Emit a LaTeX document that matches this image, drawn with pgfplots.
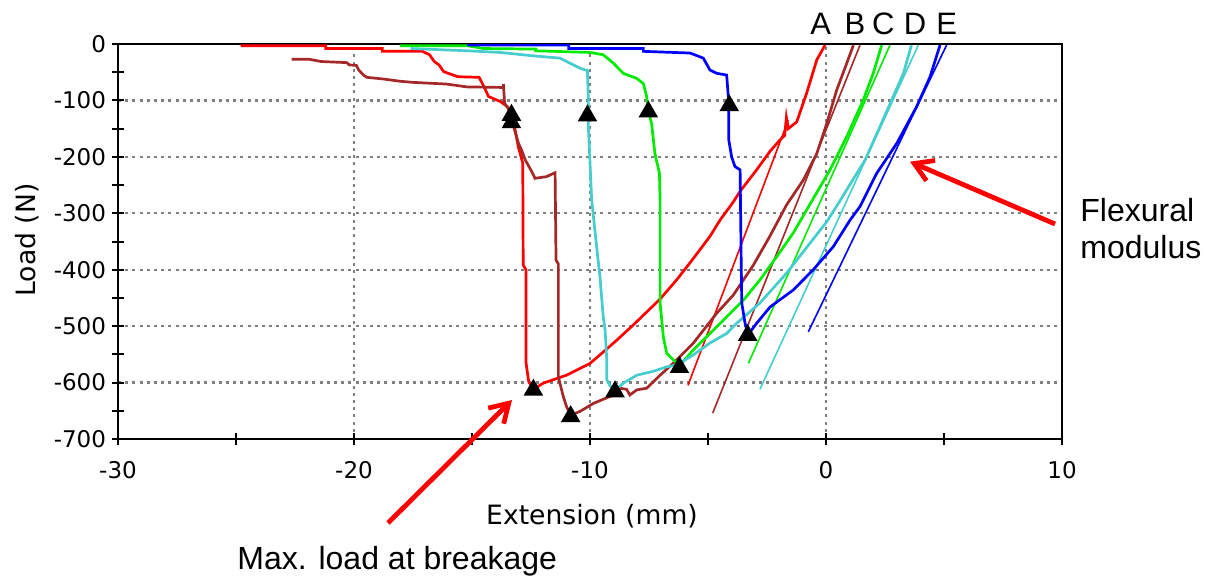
\documentclass[border=0pt]{standalone}
\usepackage{fontspec}
\setmainfont{DejaVu Sans}
\newfontfamily\arialfont{Liberation Sans}
\usepackage{pgfplots}
\pgfplotsset{compat=1.18}
\usetikzlibrary{arrows.meta}

\definecolor{cA}{RGB}{255,0,0}
\definecolor{cB}{RGB}{165,40,40}
\definecolor{cC}{RGB}{0,235,0}
\definecolor{cD}{RGB}{70,205,205}
\definecolor{cE}{RGB}{0,0,255}

\begin{document}
\begin{tikzpicture}[x=1bp,y=1bp]
\useasboundingbox (0,0) rectangle (607.5,288.5);
\begin{axis}[
  at={(59bp,69bp)}, anchor=south west,
  scale only axis, width=472bp, height=197.5bp,
  xmin=-30, xmax=10, ymin=-700, ymax=0,
  xtick={-30,-20,-10,0,10}, xticklabels={-30,-20,-10,0,10},
  ytick={-700,-600,-500,-400,-300,-200,-100,0},
  yticklabels={-700,-600,-500,-400,-300,-200,-100,0},
  minor x tick num=1, minor y tick num=1,
  tick pos=left,
  tick align=center, major tick length=6bp, minor tick length=6bp,
  tick style={black, line width=1bp},
  axis line style={black, line width=1.2bp},
  grid=major,
  major grid style={gray, line width=1.1bp, dash pattern=on 1.5bp off 2.1bp},
  ticklabel style={font=\fontsize{11.5bp}{13bp}\selectfont},
  yticklabel style={xshift=0.5bp},
  xticklabel style={yshift=-4.5bp},
  every axis plot/.append style={line width=1.35bp},
]
% A
\addplot[cA] coordinates {
(-24.8,-3) (-21.2,-3) (-21.2,-8) (-18.8,-8) (-18.8,-13) (-17.1,-13) (-16.8,-19)
(-16.6,-31) (-16.4,-37) (-16.2,-49) (-15.6,-58) (-14.7,-59) (-14.5,-75) (-14.3,-93)
(-13.8,-102) (-13.5,-111) (-13.3,-130) (-13.2,-146) (-13.04,-182) (-12.85,-211)
(-12.83,-392) (-12.71,-400) (-12.71,-565) (-12.6,-598) (-12.4,-612) (-11.98,-601)
(-11.0,-587) (-10.0,-566) (-9.58,-551) (-8.87,-525) (-8.17,-498) (-7.03,-452)
(-6.33,-418) (-5.62,-380) (-4.92,-341) (-4.49,-312) (-3.93,-280) (-3.64,-261)
(-2.94,-223) (-2.37,-190) (-1.95,-170) (-1.75,-162) (-1.68,-130) (-1.6,-150)
(-1.45,-145) (-1.24,-138) (-0.82,-87) (-0.39,-28) (-0.04,-2)};
\addplot[cA, line width=0.8bp] coordinates {(-5.85,-605) (-1.6,-135)};
% B
\addplot[cB] coordinates {
(-22.64,-27) (-21.9,-27) (-21.4,-31) (-20.3,-33) (-20.2,-37) (-19.9,-38) (-19.8,-46)
(-19.6,-55) (-19.46,-59) (-18.76,-62) (-18.05,-66) (-17.49,-68) (-16.07,-71)
(-15.22,-76) (-13.67,-77) (-13.67,-71) (-13.62,-105) (-13.4,-118) (-13.24,-146)
(-13.03,-176) (-12.9,-188) (-12.75,-205) (-12.47,-226) (-12.33,-238) (-11.84,-235)
(-11.48,-228) (-11.44,-383) (-11.34,-390) (-11.34,-590) (-11.13,-625) (-10.99,-643)
(-10.82,-658) (-10.42,-651) (-9.86,-637) (-9.01,-622) (-8.73,-610) (-8.45,-612)
(-8.31,-622) (-8.02,-613) (-7.6,-610) (-7.03,-587) (-6.33,-560) (-5.62,-530)
(-5.34,-515) (-4.63,-477) (-3.93,-445) (-3.08,-392) (-2.37,-340) (-1.67,-285)
(-0.96,-241) (-0.39,-194) (0.03,-141) (0.45,-82) (0.88,-34) (1.16,-2)};
\addplot[cB, line width=0.8bp] coordinates {(-4.8,-654) (1.44,-2)};
% C
\addplot[cC] coordinates {
(-18.05,-3) (-15.2,-3) (-14.5,-8) (-12.3,-9) (-12.3,-12) (-10.0,-15) (-9.44,-19)
(-9.01,-34) (-8.59,-52) (-8.02,-61) (-7.74,-70) (-7.6,-93) (-7.53,-118) (-7.39,-141)
(-7.25,-194) (-7.06,-229) (-7.03,-276) (-7.03,-459) (-6.89,-520) (-6.75,-548)
(-6.46,-560) (-6.21,-570) (-5.62,-542) (-4.63,-501) (-3.5,-454) (-2.8,-418)
(-2.09,-377) (-1.39,-335) (-0.82,-294) (0.17,-223) (0.88,-164) (1.58,-99)
(2.0,-52) (2.36,-2)};
\addplot[cC, line width=0.8bp] coordinates {(-3.29,-566) (2.71,-2)};
% D
\addplot[cD] coordinates {
(-17.6,-8) (-15.2,-12) (-13.8,-15) (-12.4,-21) (-11.27,-25) (-10.85,-34)
(-10.42,-43) (-10.11,-47) (-10.07,-100) (-10.07,-146) (-9.93,-276) (-9.72,-359)
(-9.58,-412) (-9.44,-483) (-9.36,-507) (-9.29,-560) (-9.29,-595) (-9.15,-606)
(-8.94,-614) (-8.59,-601) (-8.02,-587) (-7.32,-580) (-6.75,-572) (-6.33,-569)
(-5.62,-551) (-4.92,-530) (-4.21,-513) (-3.79,-495) (-2.8,-459) (-1.67,-406)
(-0.68,-353) (0.03,-315) (0.59,-278) (1.0,-250) (1.65,-206) (2.29,-146)
(2.85,-93) (3.28,-52) (3.62,-2)};
\addplot[cD, line width=0.8bp] coordinates {(-2.8,-612) (3.91,-2)};
% E
\addplot[cE] coordinates {
(-15.2,-2) (-10.9,-2) (-10.9,-8) (-7.74,-8) (-7.74,-13) (-5.76,-16) (-5.2,-25)
(-4.92,-46) (-4.63,-52) (-4.21,-55) (-4.14,-93) (-4.12,-108) (-4.12,-170)
(-4.0,-200) (-3.86,-217) (-3.64,-223) (-3.62,-294) (-3.6,-365) (-3.57,-459)
(-3.43,-495) (-3.3,-515) (-2.94,-495) (-2.37,-466) (-1.39,-436) (-0.54,-400)
(0.31,-359) (1.02,-312) (1.44,-288) (2.15,-229) (3.0,-176) (3.84,-111)
(4.41,-58) (4.83,-2)};
\addplot[cE, line width=0.8bp] coordinates {(-0.75,-510) (5.11,-2)};
% failure points
\addplot[only marks, mark=triangle*, mark size=4.3bp, black] coordinates {
(-13.33,-126) (-13.33,-139) (-10.11,-127) (-7.53,-120) (-4.10,-109)
(-12.4,-613) (-10.82,-660) (-8.94,-616) (-6.21,-573) (-3.32,-516)};
\end{axis}

% axis titles
\node[font=\fontsize{13.3bp}{15bp}\selectfont, rotate=90] at (13.5,168.5) {Load (N)};
\node[font=\fontsize{13.3bp}{15bp}\selectfont] at (296,30.5) {Extension (mm)};

% specimen letters
\begin{scope}[every node/.style={anchor=base, inner sep=0pt, font=\arialfont\fontsize{15.5bp}{18bp}\selectfont}]
\node at (410.35,271.35) {A};
\node at (427.5,271.35) {B};
\node at (441.65,271.35) {C};
\node at (457.5,271.35) {D};
\node at (473.35,271.35) {E};
\end{scope}

% annotations
\begin{scope}[every node/.style={anchor=base west, inner sep=0pt, font=\arialfont\fontsize{16bp}{19bp}\selectfont}]
\node at (540,177.65) {Flexural};
\node at (540,159.35) {modulus};
\node at (118.5,4) {Max. load at breakage};
\end{scope}
\draw[cA, line width=2.4bp, -{Straight Barb[length=9bp, width=11bp]}] (527.5,176.5) -- (455,207.65);
\draw[cA, line width=2.4bp, -{Straight Barb[length=9bp, width=11bp]}] (194,27) -- (256,88.5);
\end{tikzpicture}
\end{document}
